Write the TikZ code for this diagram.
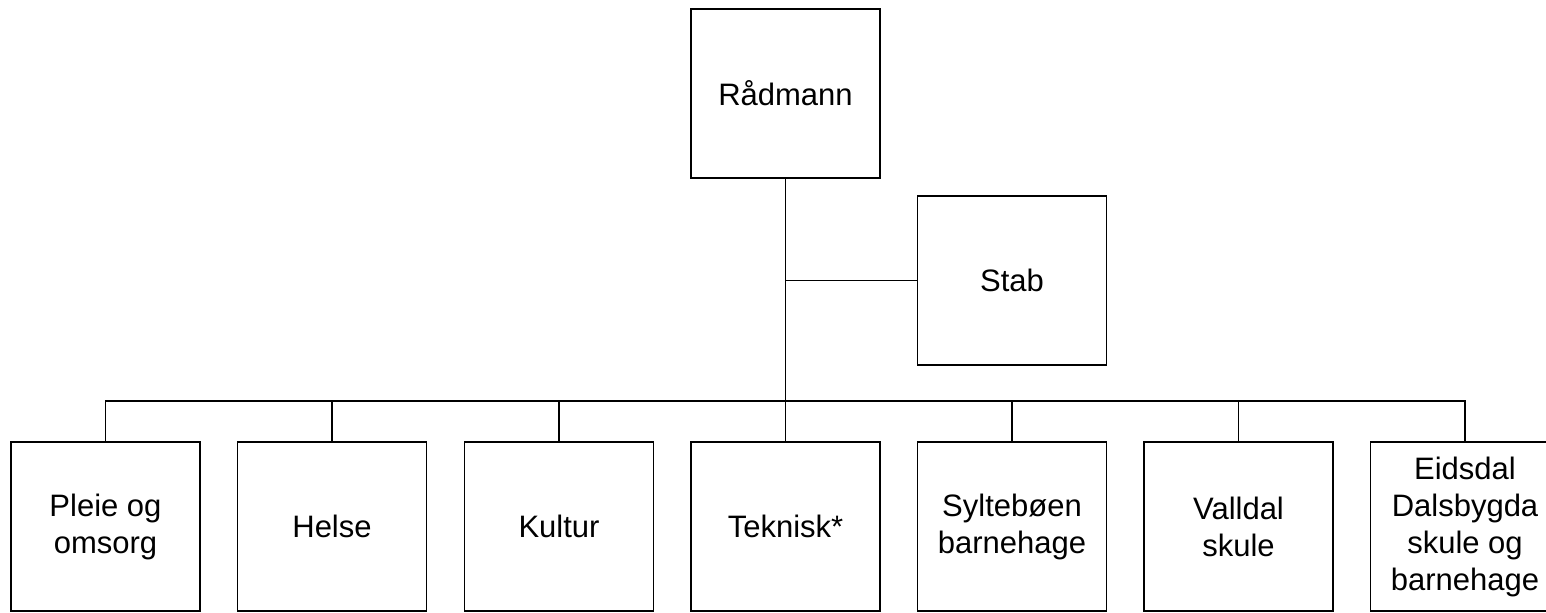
\documentclass[tikz,border=0pt]{standalone}
\usepackage{fontspec}
\setmainfont{Liberation Sans}

\tikzset{
  unit/.style={draw, line width=0.8pt, minimum width=94.5pt, minimum height=84.5pt,
    align=center, inner sep=0pt, font=\fontsize{15.5pt}{18.5pt}\selectfont},
  link/.style={line width=0.8pt}
}

\begin{document}
\begin{tikzpicture}[x=0.5pt,y=-0.5pt]
  \useasboundingbox (0,0) rectangle (1546,612);
  % top
  \node[unit] (rad) at (785.5,93.5) {Rådmann};
  \node[unit] (stab) at (1012,280.5) {Stab};
  % units
  \node[unit] (u1) at (105.5,526.5) {Pleie og\\omsorg};
  \node[unit] (u2) at (332,526.5) {Helse};
  \node[unit] (u3) at (559,526.5) {Kultur};
  \node[unit] (u4) at (785.5,526.5) {Teknisk*};
  \node[unit] (u5) at (1012,526.5) {Syltebøen\\barnehage};
  \node[unit] (u6) at (1238.5,526.5) {Valldal\\skule};
  \node[unit] (u7) at (1465,526.5) {Eidsdal\\Dalsbygda\\skule og\\barnehage};
  % lines
  \coordinate (bar) at (785.5,401);
  \draw[link] (rad.south) -- (bar);
  \draw[link] (rad.south |- stab.west) -- (stab.west);
  \draw[link] (u1.north) |- (u7.north |- bar) -- (u7.north);
  \foreach \u in {u2,u3,u4,u5,u6}
    \draw[link] (\u.north) -- (\u.north |- bar);
\end{tikzpicture}
\end{document}
